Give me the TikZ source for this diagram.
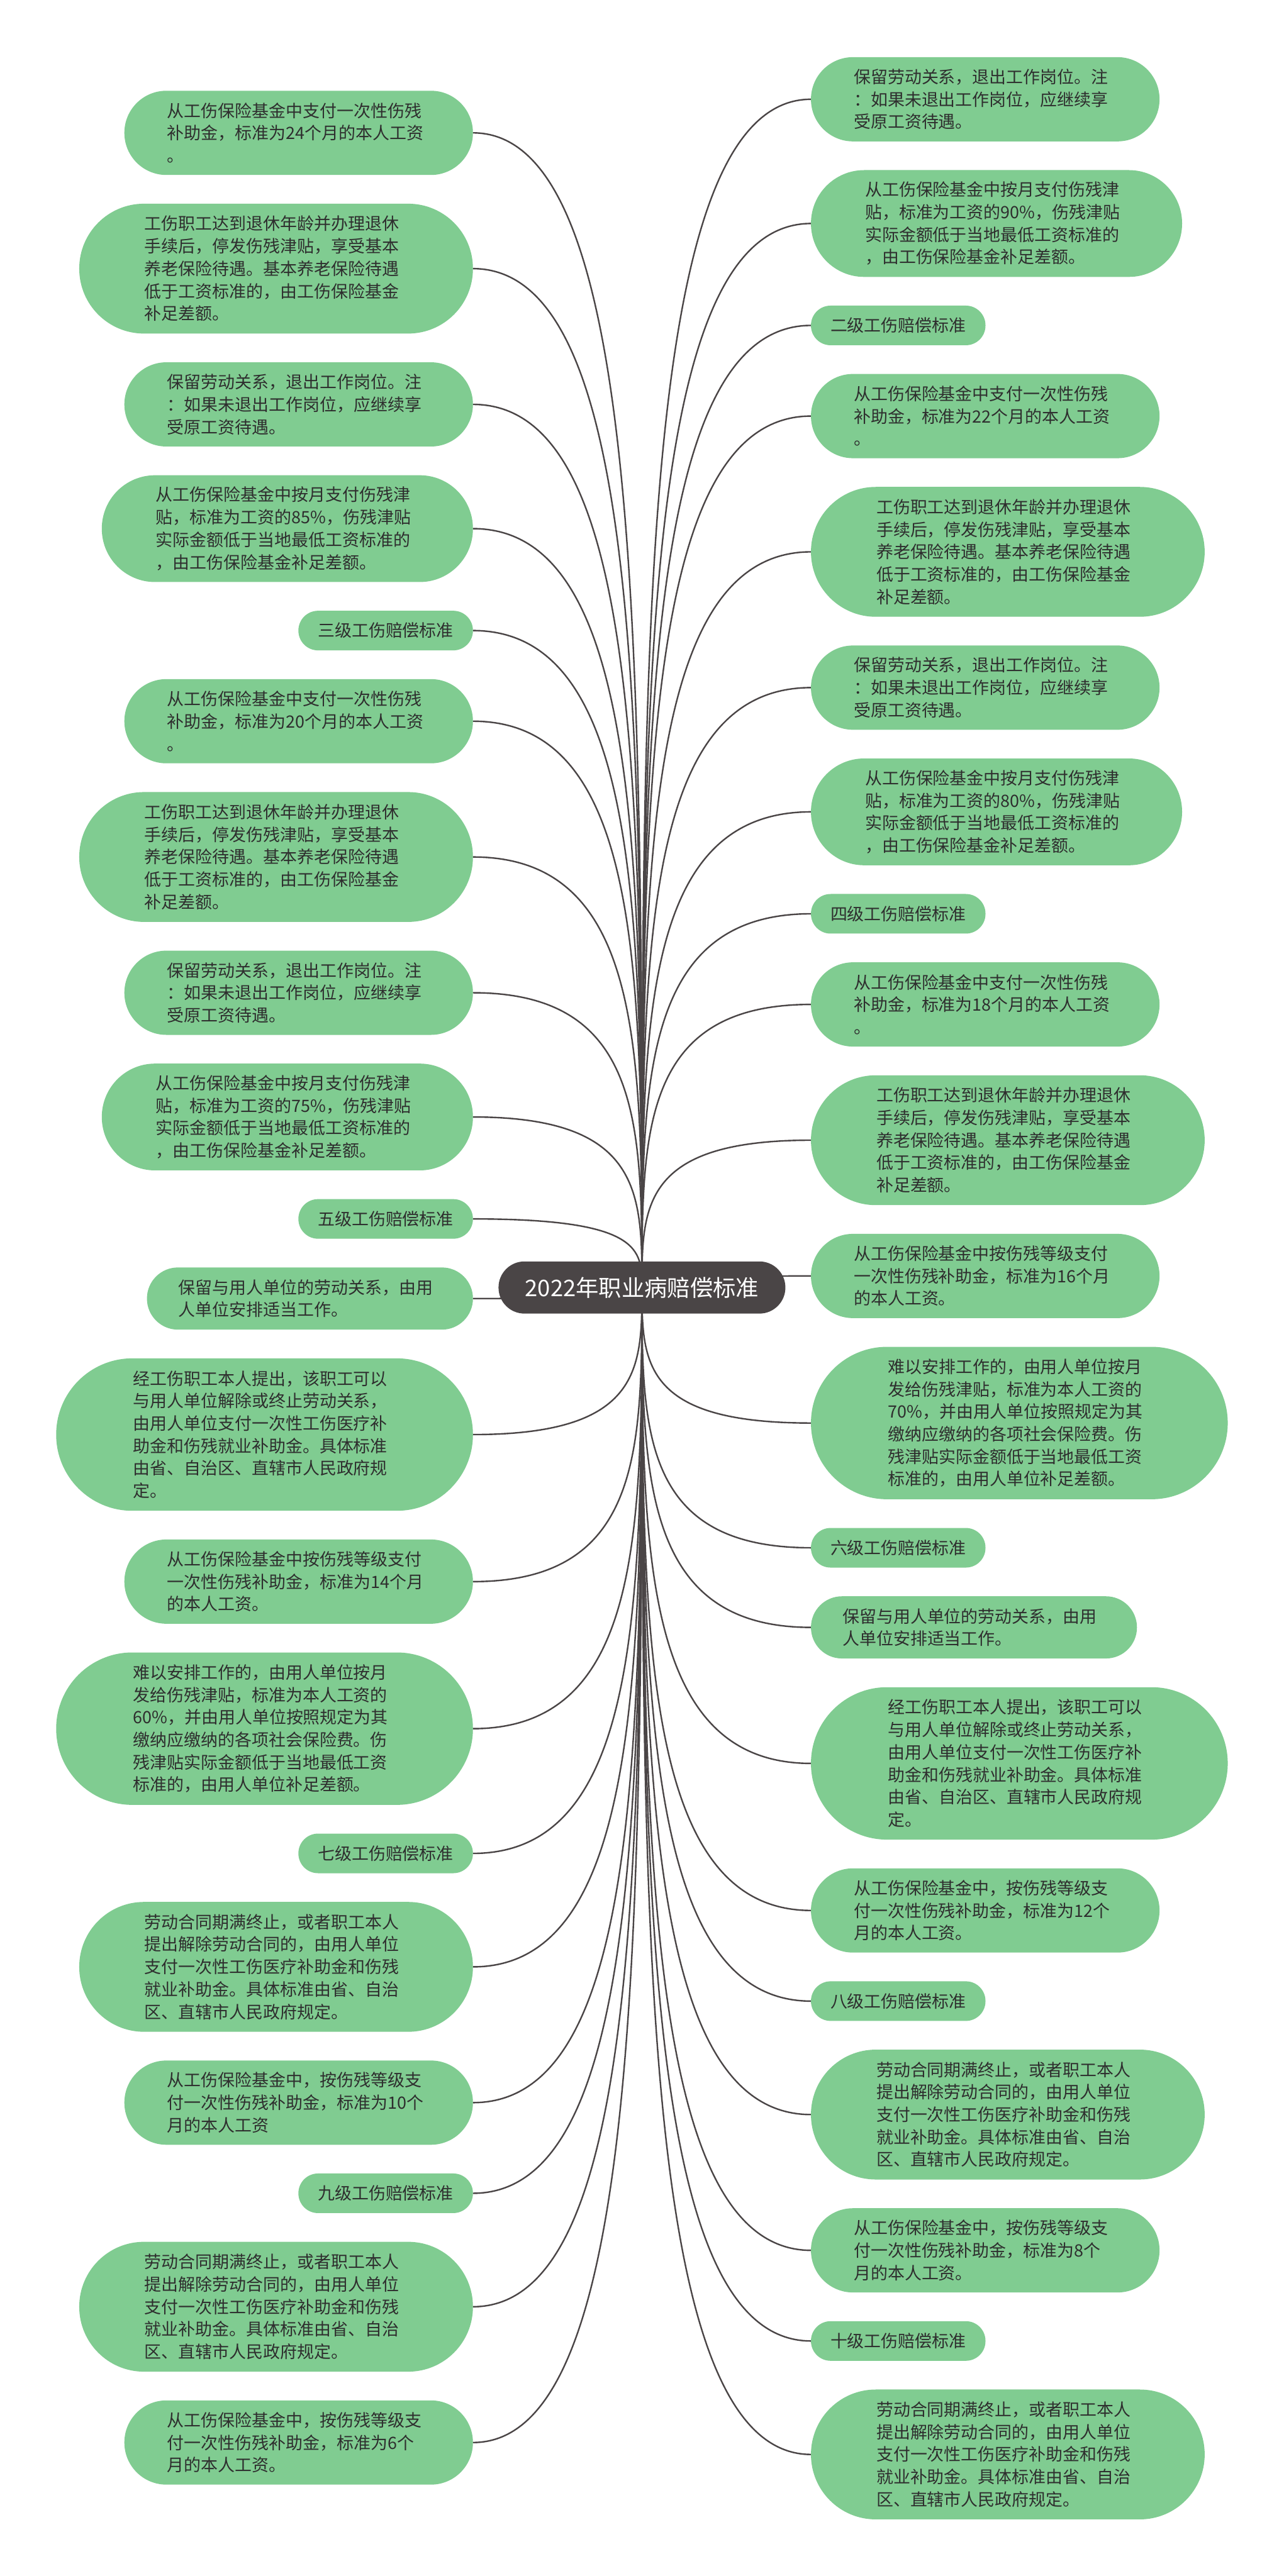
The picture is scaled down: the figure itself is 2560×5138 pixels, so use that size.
\documentclass[tikz,border=0pt]{standalone}
\usepackage{fontspec}
\newfontfamily\cjk{Noto Sans CJK SC}
\usetikzlibrary{calc}
\definecolor{leafgreen}{HTML}{80CC91}
\definecolor{rootgray}{HTML}{4A4546}
\definecolor{linegray}{HTML}{4A4546}
\definecolor{txtgray}{HTML}{2E2E2E}
\pgfdeclarelayer{bg}
\pgfdeclarelayer{lines}
\pgfsetlayers{bg,lines,main}

\newcommand\tA[1]{从工伤保险基金中支付一次性伤残\\补助金，标准为#1个月的本人工资\\。}
\newcommand\tRetire{工伤职工达到退休年龄并办理退休\\手续后，停发伤残津贴，享受基本\\养老保险待遇。基本养老保险待遇\\低于工资标准的，由工伤保险基金\\补足差额。}
\newcommand\tKeep{保留劳动关系，退出工作岗位。注\\：如果未退出工作岗位，应继续享\\受原工资待遇。}
\newcommand\tMonth[1]{从工伤保险基金中按月支付伤残津\\贴，标准为工资的#1\%，伤残津贴\\实际金额低于当地最低工资标准的\\，由工伤保险基金补足差额。}
\newcommand\tUnit{保留与用人单位的劳动关系，由用\\人单位安排适当工作。}
\newcommand\tQuit{经工伤职工本人提出，该职工可以\\与用人单位解除或终止劳动关系，\\由用人单位支付一次性工伤医疗补\\助金和伤残就业补助金。具体标准\\由省、自治区、直辖市人民政府规\\定。}
\newcommand\tGrade[1]{从工伤保险基金中按伤残等级支付\\一次性伤残补助金，标准为#1个月\\的本人工资。}
\newcommand\tGradeB[1]{从工伤保险基金中，按伤残等级支\\付一次性伤残补助金，标准为#1个\\月的本人工资。}
\newcommand\tHard[1]{难以安排工作的，由用人单位按月\\发给伤残津贴，标准为本人工资的\\#1\%，并由用人单位按照规定为其\\缴纳应缴纳的各项社会保险费。伤\\残津贴实际金额低于当地最低工资\\标准的，由用人单位补足差额。}
\newcommand\tContract{劳动合同期满终止，或者职工本人\\提出解除劳动合同的，由用人单位\\支付一次性工伤医疗补助金和伤残\\就业补助金。具体标准由省、自治\\区、直辖市人民政府规定。}

\begin{document}
\begin{tikzpicture}[x=0.5pt, y=-0.5pt,
  base/.style={fill=leafgreen, text=txtgray, inner sep=0pt, outer sep=0pt,
    font=\cjk\fontsize{16.9pt}{22.4pt}\selectfont},
  multi/.style={base, text width=262pt, align=left},
  pill1/.style={base, align=center, minimum width=174pt, minimum height=39.5pt, rounded corners=19.6pt},
  pill2/.style={multi, minimum width=325pt, minimum height=62pt, rounded corners=30.9pt},
  pill3/.style={multi, minimum width=347.5pt, minimum height=84pt, rounded corners=41.9pt},
  pill4/.style={multi, minimum width=370pt, minimum height=106.5pt, rounded corners=53.1pt},
  pill5/.style={multi, minimum width=392.5pt, minimum height=129.5pt, rounded corners=64.6pt},
  pill6/.style={multi, minimum width=415.5pt, minimum height=152pt, rounded corners=75.9pt},
  lft/.style={anchor=east},
  rgt/.style={anchor=west},
  rootnode/.style={fill=rootgray, text=white, inner sep=0pt, outer sep=0pt,
    minimum width=286pt, minimum height=52pt, rounded corners=25.9pt,
    font=\cjk\fontsize{22.8pt}{28pt}\selectfont},
  conn/.style={draw=linegray, line width=1.5pt}
]
\useasboundingbox (0,0) rectangle (2560,5138);
\begin{pgfonlayer}{bg}
\fill[white] (0,0) rectangle (2560,5138);
\end{pgfonlayer}

\node[rootnode] (root) at (1280,2568) {2022年职业病赔偿标准};

% left side
\node[pill3,lft] (L1) at (943,265) {\tA{24}};
\node[pill5,lft] (L2) at (943,535.8) {\tRetire};
\node[pill3,lft] (L3) at (943,806.6) {\tKeep};
\node[pill4,lft] (L4) at (943,1054.4) {\tMonth{85}};
\node[pill1,lft] (L5) at (943,1257.7) {三级工伤赔偿标准};
\node[pill3,lft] (L6) at (943,1438.5) {\tA{20}};
\node[pill5,lft] (L7) at (943,1709.3) {\tRetire};
\node[pill3,lft] (L8) at (943,1980.1) {\tKeep};
\node[pill4,lft] (L9) at (943,2227.9) {\tMonth{75}};
\node[pill1,lft] (L10) at (943,2431.2) {五级工伤赔偿标准};
\node[pill2,lft] (L11) at (943,2590) {\tUnit};
\node[pill6,lft] (L12) at (943,2861.3) {\tQuit};
\node[pill3,lft] (L13) at (943,3154.6) {\tGrade{14}};
\node[pill6,lft] (L14) at (943,3447.9) {\tHard{60}};
\node[pill1,lft] (L15) at (943,3696.7) {七级工伤赔偿标准};
\node[pill5,lft] (L16) at (943,3923) {\tContract};
\node[pill3,lft] (L17) at (943,4193.8) {从工伤保险基金中，按伤残等级支\\付一次性伤残补助金，标准为10个\\月的本人工资};
\node[pill1,lft] (L18) at (943,4374.6) {九级工伤赔偿标准};
\node[pill5,lft] (L19) at (943,4600.9) {\tContract};
\node[pill3,lft] (L20) at (943,4871.7) {\tGradeB{6}};

% right side
\node[pill3,rgt] (R1) at (1617,198) {\tKeep};
\node[pill4,rgt] (R2) at (1617,445.8) {\tMonth{90}};
\node[pill1,rgt] (R3) at (1617,649.1) {二级工伤赔偿标准};
\node[pill3,rgt] (R4) at (1617,829.9) {\tA{22}};
\node[pill5,rgt] (R5) at (1617,1100.7) {\tRetire};
\node[pill3,rgt] (R6) at (1617,1371.5) {\tKeep};
\node[pill4,rgt] (R7) at (1617,1619.3) {\tMonth{80}};
\node[pill1,rgt] (R8) at (1617,1822.6) {四级工伤赔偿标准};
\node[pill3,rgt] (R9) at (1617,2003.4) {\tA{18}};
\node[pill5,rgt] (R10) at (1617,2274.2) {\tRetire};
\node[pill3,rgt] (R11) at (1617,2545) {\tGrade{16}};
\node[pill6,rgt] (R12) at (1617,2838.3) {\tHard{70}};
\node[pill1,rgt] (R13) at (1617,3087.1) {六级工伤赔偿标准};
\node[pill2,rgt] (R14) at (1617,3245.9) {\tUnit};
\node[pill6,rgt] (R15) at (1617,3517.2) {\tQuit};
\node[pill3,rgt] (R16) at (1617,3810.5) {\tGradeB{12}};
\node[pill1,rgt] (R17) at (1617,3991.3) {八级工伤赔偿标准};
\node[pill5,rgt] (R18) at (1617,4217.6) {\tContract};
\node[pill3,rgt] (R19) at (1617,4488.4) {\tGradeB{8}};
\node[pill1,rgt] (R20) at (1617,4669.2) {十级工伤赔偿标准};
\node[pill5,rgt] (R21) at (1617,4895.5) {\tContract};

\begin{pgfonlayer}{lines}
\foreach \nd in {L1,L2,L3,L4,L5,L6,L7,L8,L9,L10,L11,L12,L13,L14,L15,L16,L17,L18,L19,L20} {
  \draw[conn] (\nd.east) .. controls (\nd.east -| root.center) and ($(\nd.east -| root.center)!0.45!(root.center)$) .. (root.center);
}
\foreach \nd in {R1,R2,R3,R4,R5,R6,R7,R8,R9,R10,R11,R12,R13,R14,R15,R16,R17,R18,R19,R20,R21} {
  \draw[conn] (\nd.west) .. controls (\nd.west -| root.center) and ($(\nd.west -| root.center)!0.45!(root.center)$) .. (root.center);
}
\end{pgfonlayer}
\end{tikzpicture}
\end{document}
